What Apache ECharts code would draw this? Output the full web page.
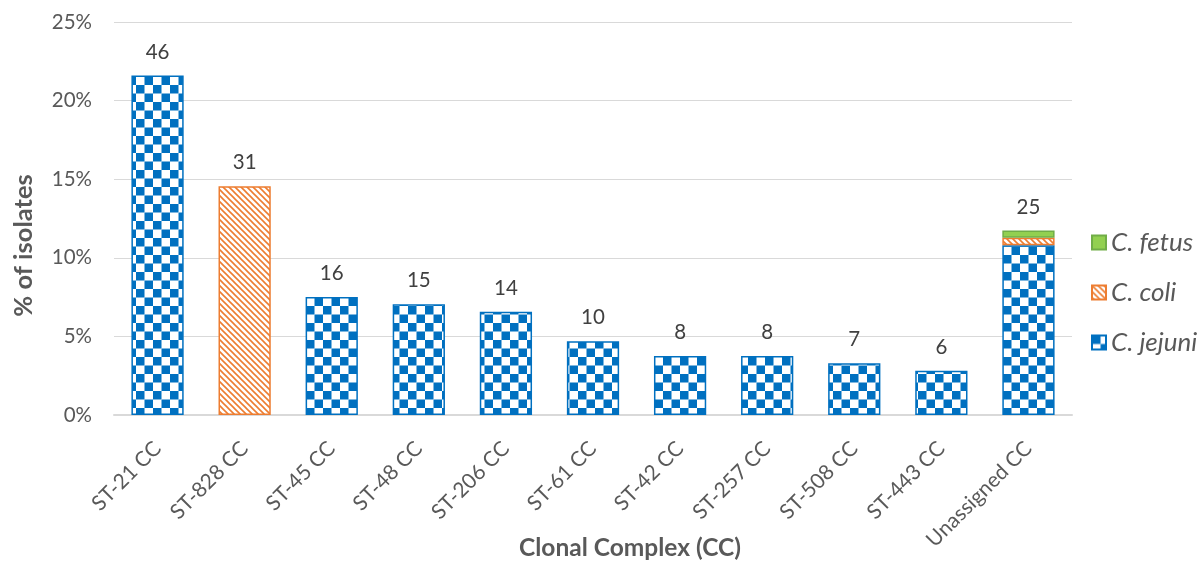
<!DOCTYPE html>
<html>
<head>
<meta charset="utf-8">
<script src="https://cdn.jsdelivr.net/npm/echarts@6/dist/echarts.min.js"></script>
<style>
  html, body { margin: 0; padding: 0; background: #fff; }
  #chart { width: 1202px; height: 561px; }
</style>
</head>
<body>
<div id="chart"></div>
<script>
// Clonal complexes and isolate counts per species
const categories = ['ST-21 CC', 'ST-828 CC', 'ST-45 CC', 'ST-48 CC', 'ST-206 CC', 'ST-61 CC',
  'ST-42 CC', 'ST-257 CC', 'ST-508 CC', 'ST-443 CC', 'Unassigned CC'];
const jejuniCounts = [46, 0, 16, 15, 14, 10, 8, 8, 7, 6, 23];
const coliCounts   = [0, 31, 0, 0, 0, 0, 0, 0, 0, 0, 1];
const fetusCounts  = [0, 0, 0, 0, 0, 0, 0, 0, 0, 0, 1];
const totalIsolates = 213;
const yTicks = [0, 5, 10, 15, 20, 25];

const FONT = 'Lato, "Open Sans", sans-serif';
const BLUE = '#0070C0', ORANGE = '#ED7D31', GREEN = '#92D050', GREEN_EDGE = '#70AD47';

// Checkerboard fill for C. jejuni
function checkerPattern() {
  const c = document.createElement('canvas');
  const s = 8.5;
  c.width = c.height = 17;
  const g = c.getContext('2d');
  g.fillStyle = '#fff'; g.fillRect(0, 0, 17, 17);
  g.fillStyle = BLUE;
  g.fillRect(0, 0, s, s);
  g.fillRect(s, s, s, s);
  return c;
}
// Downward diagonal hatch for C. coli
function hatchPattern() {
  const n = 6;
  const c = document.createElement('canvas');
  c.width = c.height = n;
  const g = c.getContext('2d');
  g.fillStyle = '#fff'; g.fillRect(0, 0, n, n);
  g.strokeStyle = ORANGE; g.lineWidth = 1.6;
  g.beginPath();
  g.moveTo(-1, -1); g.lineTo(n + 1, n + 1);
  g.moveTo(-1, n - 1); g.lineTo(1, n + 1);
  g.moveTo(n - 1, -1); g.lineTo(n + 1, 1);
  g.stroke();
  return c;
}

const pct = arr => arr.map(v => v === 0 ? null : v / totalIsolates * 100);
const totals = categories.map((_, i) => jejuniCounts[i] + coliCounts[i] + fetusCounts[i]);

const chart = echarts.init(document.getElementById('chart'), null, { renderer: 'canvas' });
chart.setOption({
  animation: false,
  backgroundColor: '#fff',
  textStyle: { fontFamily: FONT },
  grid: { left: 114, right: 130, top: 22, bottom: 146, containLabel: false, outerBoundsMode: 'none' },
  legend: {
    data: ['C. fetus', 'C. coli', 'C. jejuni'],
    orient: 'vertical',
    left: 1086, top: 224,
    itemWidth: 14, itemHeight: 14, itemGap: 23,
    icon: 'rect',
    textStyle: { fontFamily: FONT, fontSize: 26, lineHeight: 27, fontStyle: 'italic', color: '#595959' }
  },
  xAxis: {
    type: 'category',
    data: categories,
    name: 'Clonal Complex (CC)',
    nameLocation: 'middle',
    nameGap: 121,
    nameMoveOverlap: false,
    nameTextStyle: { fontFamily: FONT, fontSize: 24.5, fontWeight: 'bold', color: '#595959', padding: [0, 0, 0, 74] },
    axisLine: { lineStyle: { color: '#D9D9D9', width: 2 } },
    axisTick: { show: false },
    axisLabel: { rotate: 45, fontSize: 21, color: '#595959', margin: 30, fontFamily: FONT }
  },
  yAxis: {
    type: 'value',
    min: yTicks[0], max: yTicks[yTicks.length - 1], interval: 5,
    name: '% of isolates',
    nameLocation: 'middle',
    nameGap: 77,
    nameTextStyle: { fontFamily: FONT, fontSize: 25.5, fontWeight: 'bold', color: '#595959', padding: [0, 54, 0, 0] },
    axisLine: { show: false },
    axisTick: { show: false },
    axisLabel: { formatter: '{value}%', fontSize: 20.5, color: '#595959', margin: 22, fontFamily: FONT },
    splitLine: { lineStyle: { color: '#D9D9D9', width: 1 } }
  },
  series: [
    {
      name: 'C. jejuni', type: 'bar', stack: 'cc', barWidth: '60%',
      data: pct(jejuniCounts),
      itemStyle: { color: { image: checkerPattern(), repeat: 'repeat' }, borderColor: BLUE, borderWidth: 1.5 }
    },
    {
      name: 'C. coli', type: 'bar', stack: 'cc',
      data: pct(coliCounts),
      itemStyle: { color: { image: hatchPattern(), repeat: 'repeat' }, borderColor: ORANGE, borderWidth: 1.5 }
    },
    {
      name: 'C. fetus', type: 'bar', stack: 'cc',
      data: pct(fetusCounts),
      itemStyle: { color: GREEN, borderColor: GREEN_EDGE, borderWidth: 1.5 }
    },
    {
      // zero-height cap carrying the total count label
      name: 'total', type: 'bar', stack: 'cc',
      data: totals.map(() => 0),
      itemStyle: { color: 'transparent' },
      label: {
        show: true, position: 'top', distance: 13,
        formatter: p => totals[p.dataIndex],
        fontSize: 20.5, color: '#404040', fontFamily: FONT
      },
      silent: true
    }
  ]
});
</script>
</body>
</html>
